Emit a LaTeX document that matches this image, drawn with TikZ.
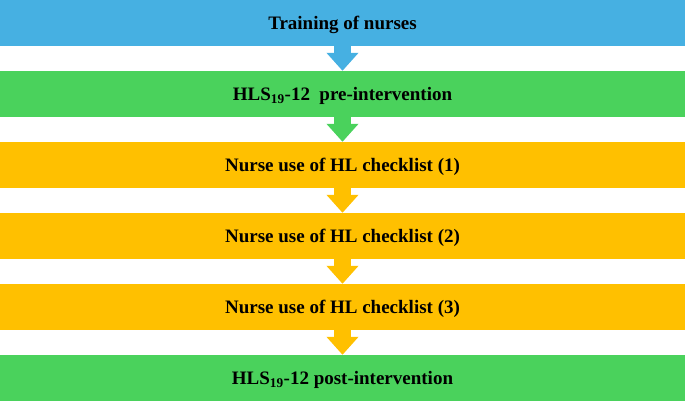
\documentclass[tikz,border=0pt]{standalone}
\usepackage{fontspec}
\setmainfont{Liberation Serif}
\usepackage{tikz}
\usetikzlibrary{arrows.meta}
\definecolor{barblue}{RGB}{70,176,226}
\definecolor{bargreen}{RGB}{74,210,92}
\definecolor{barorange}{RGB}{255,192,0}

\begin{document}
\begin{tikzpicture}[x=1pt,y=-1pt,
  bar/.style={minimum width=685pt,minimum height=46pt,inner sep=0pt,
    text height=13pt,text depth=0pt,
    font=\fontsize{19}{22}\selectfont\bfseries},
  down/.style={line width=17pt,-{Triangle[width=31pt,length=18pt]}}]
\useasboundingbox (0,0) rectangle (685,400);
\node[bar,fill=barblue] (T) at (342.5,23) {Training of nurses};
\node[bar,fill=bargreen] (P) at (342.5,94) {HLS\textsubscript{19}-12\ \ pre-intervention};
\node[bar,fill=barorange] (C1) at (342.5,165) {Nurse use of HL checklist (1)};
\node[bar,fill=barorange] (C2) at (342.5,236) {Nurse use of HL checklist (2)};
\node[bar,fill=barorange] (C3) at (342.5,307) {Nurse use of HL checklist (3)};
\node[bar,fill=bargreen] (Q) at (342.5,378) {HLS\textsubscript{19}-12 post-intervention};
\draw[down,barblue] (T.south) -- (P.north);
\draw[down,bargreen] (P.south) -- (C1.north);
\draw[down,barorange] (C1.south) -- (C2.north);
\draw[down,barorange] (C2.south) -- (C3.north);
\draw[down,barorange] (C3.south) -- (Q.north);
\end{tikzpicture}
\end{document}
